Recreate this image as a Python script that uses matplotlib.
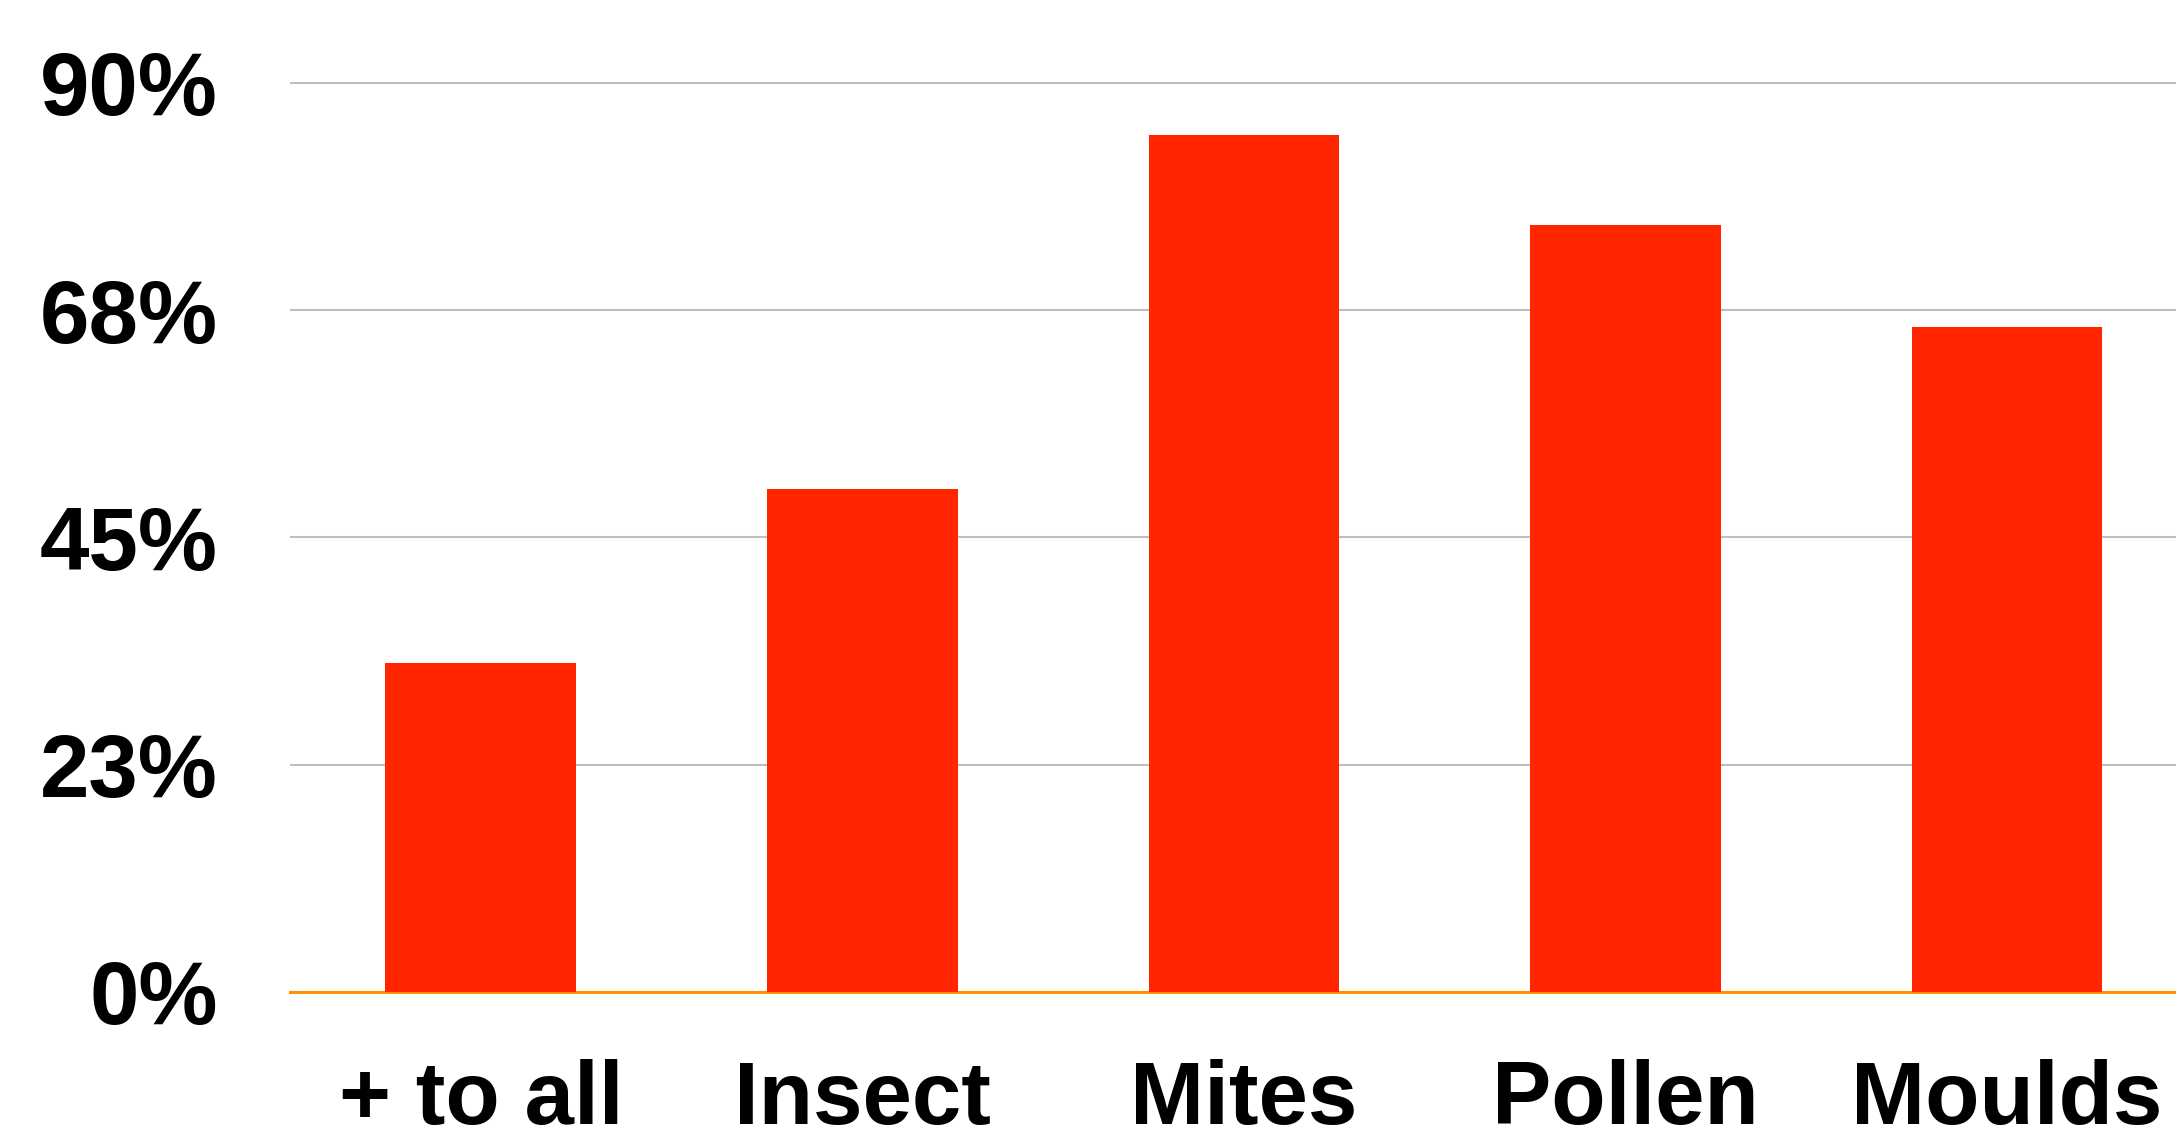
import matplotlib.pyplot as plt
from matplotlib.transforms import Bbox

# data
categories = ['+ to all', 'Insect', 'Mites', 'Pollen', 'Moulds']
percent = [32.6, 49.8, 84.8, 75.9, 65.8]
tick_values = [0, 22.5, 45, 67.5, 90]
tick_labels = ['0%', '23%', '45%', '68%', '90%']

bar_color = '#FF2600'
grid_color = '#BFBFBF'
base_color = '#FF9300'

plt.rcParams['font.family'] = ['Liberation Sans', 'DejaVu Sans']
plt.rcParams['font.weight'] = 'bold'

fig = plt.figure(figsize=(21.76, 11.27), dpi=100)
ax = fig.add_axes([0.1333, 0.1198, 0.8667, 0.8158])

x = list(range(len(categories)))
ax.bar(x, percent, width=0.5, color=bar_color, zorder=3)

# axis limits (right edge cuts into the last slot)
ax.set_xlim(-0.5, 4.443)
ax.set_ylim(0, 91)

ax.set_yticks(tick_values)
ax.set_yticklabels(tick_labels, fontsize=64, fontweight='bold')
ax.set_xticks(x)
ax.set_xticklabels(categories, fontsize=64, fontweight='bold')
ax.tick_params(axis='y', length=0, pad=52)
ax.tick_params(axis='x', length=0, pad=95)
for lab in ax.get_xticklabels():
    lab.set_verticalalignment('baseline')

# grey gridlines, orange baseline
ax.yaxis.grid(True, color=grid_color, linewidth=1.5, zorder=0)
ax.set_axisbelow(True)
for side in ['top', 'right', 'left']:
    ax.spines[side].set_visible(False)
ax.spines['bottom'].set_color(base_color)
ax.spines['bottom'].set_linewidth(2.2)
ax.spines['bottom'].set_zorder(2)

fig.savefig('out.png', dpi=100)
